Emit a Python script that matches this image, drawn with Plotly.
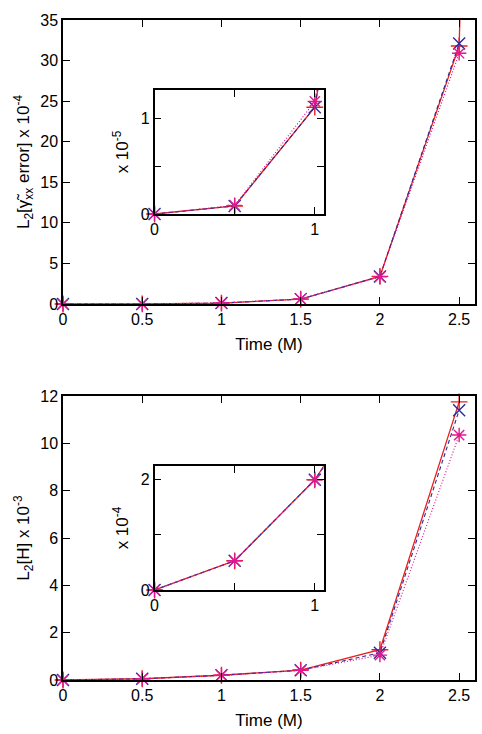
import plotly.graph_objects as go

# ---------------- data ----------------
t = [0, 0.5, 1, 1.5, 2, 2.5]
t_red = [0, 0.5, 1, 1.5, 2, 2.5, 3.0]

# top panel, units of 1e-4
gam_red = [0, 0.0084, 0.112, 0.60, 3.40, 31.8, 400.0]
gam_blue = [0, 0.0084, 0.112, 0.60, 3.40, 32.1]
gam_mag = [0, 0.0090, 0.118, 0.62, 3.35, 30.9]

# bottom panel, units of 1e-3
ham_red = [0, 0.053, 0.200, 0.42, 1.28, 11.75]
ham_blue = [0, 0.053, 0.200, 0.41, 1.15, 11.40]
ham_mag = [0, 0.053, 0.200, 0.41, 1.05, 10.35]

main_xticks = [0, 0.5, 1, 1.5, 2, 2.5]
main_xlabels = ["0", "0.5", "1", "1.5", "2", "2.5"]
top_yticks = [0, 5, 10, 15, 20, 25, 30, 35]
bot_yticks = [0, 2, 4, 6, 8, 10, 12]

RED = "#e8201c"
BLUE = "#2c2a9a"
MAG = "#e0198f"
FONT = "Liberation Sans, Arial, Helvetica, sans-serif"
FS = 16
TS = 17

styles = [
    dict(color=RED, dash="solid", symbol="cross-thin-open", width=1.3),
    dict(color=BLUE, dash="4px,3px", symbol="x-thin-open", width=1.1),
    dict(color=MAG, dash="1px,2px", symbol="asterisk-open", width=1.2),
]

fig = go.Figure()


def add_series(xs, ys, st, xa, ya, scale, xmax, ymax):
    yy = [v * scale for v in ys]
    fig.add_trace(go.Scatter(x=xs, y=yy, mode="lines", xaxis=xa, yaxis=ya,
                             line=dict(color=st["color"], dash=st["dash"], width=st["width"]),
                             cliponaxis=True, showlegend=False, hoverinfo="skip"))
    px = [x for x, y in zip(xs, yy) if x <= xmax and y <= ymax]
    py = [y for x, y in zip(xs, yy) if x <= xmax and y <= ymax]
    fig.add_trace(go.Scatter(x=px, y=py, mode="markers", xaxis=xa, yaxis=ya,
                             marker=dict(symbol=st["symbol"], size=12,
                                         color=st["color"],
                                         line=dict(color=st["color"], width=1.4)),
                             cliponaxis=False, showlegend=False, hoverinfo="skip"))


for xs, ys, st in [(t_red, gam_red, styles[0]), (t, gam_blue, styles[1]), (t, gam_mag, styles[2])]:
    add_series(xs, ys, st, "x", "y", 1, 2.6, 35)
for xs, ys, st in [(t_red, gam_red, styles[0]), (t, gam_blue, styles[1]), (t, gam_mag, styles[2])]:
    add_series(xs, ys, st, "x3", "y3", 10, 1.056, 1.3)
for xs, ys, st in [(t, ham_red, styles[0]), (t, ham_blue, styles[1]), (t, ham_mag, styles[2])]:
    add_series(xs, ys, st, "x2", "y2", 1, 2.6, 12)
for xs, ys, st in [(t, ham_red, styles[0]), (t, ham_blue, styles[1]), (t, ham_mag, styles[2])]:
    add_series(xs, ys, st, "x4", "y4", 10, 1.056, 2.25)

axis_common = dict(showline=True, linecolor="black", linewidth=1.5, mirror="ticks",
                   ticks="inside", ticklen=7, tickwidth=1.3, tickcolor="black",
                   showgrid=False, zeroline=False,
                   tickfont=dict(family=FONT, size=FS, color="black"))

fig.update_layout(
    width=482, height=734,
    margin=dict(l=63, r=5, t=20, b=54),
    paper_bgcolor="white", plot_bgcolor="white",
    font=dict(family=FONT, size=FS, color="black"),
    xaxis=dict(domain=[0, 1], anchor="y", range=[0, 2.6], tickvals=main_xticks,
               ticktext=main_xlabels,
               title=dict(text="Time (M)", standoff=11, font=dict(size=TS)), **axis_common),
    yaxis=dict(domain=[0.5697, 1], anchor="x", range=[0, 35], tickvals=top_yticks,
               title=dict(text="L<sub>2</sub>[γ̃<sub>xx</sub> error] x 10<sup>-4</sup>",
                          standoff=6, font=dict(size=TS)), **axis_common),
    xaxis2=dict(domain=[0, 1], anchor="y2", range=[0, 2.6], tickvals=main_xticks,
                ticktext=main_xlabels,
                title=dict(text="Time (M)", standoff=11, font=dict(size=TS)), **axis_common),
    yaxis2=dict(domain=[0, 0.4303], anchor="x2", range=[0, 12], tickvals=bot_yticks,
                title=dict(text="L<sub>2</sub>[H] x 10<sup>-3</sup>", standoff=6,
                           font=dict(size=TS)), **axis_common),
    xaxis3=dict(domain=[0.2222, 0.6329], anchor="y3", range=[0, 1.056],
                tickvals=[0, 0.5, 1], ticktext=["0", "", "1"], **axis_common),
    yaxis3=dict(domain=[0.7061, 0.8939], anchor="x3", range=[0, 1.3],
                tickvals=[0, 0.5, 1], ticktext=["0", "", "1"],
                title=dict(text="x 10<sup>-5</sup>", standoff=8, font=dict(size=TS)),
                **axis_common),
    xaxis4=dict(domain=[0.2222, 0.6329], anchor="y4", range=[0, 1.056],
                tickvals=[0, 0.5, 1], ticktext=["0", "", "1"], **axis_common),
    yaxis4=dict(domain=[0.1364, 0.3242], anchor="x4", range=[0, 2.25],
                tickvals=[0, 1, 2], ticktext=["0", "", "2"],
                title=dict(text="x 10<sup>-4</sup>", standoff=8, font=dict(size=TS)),
                **axis_common),
)

fig.write_html("out.html")
